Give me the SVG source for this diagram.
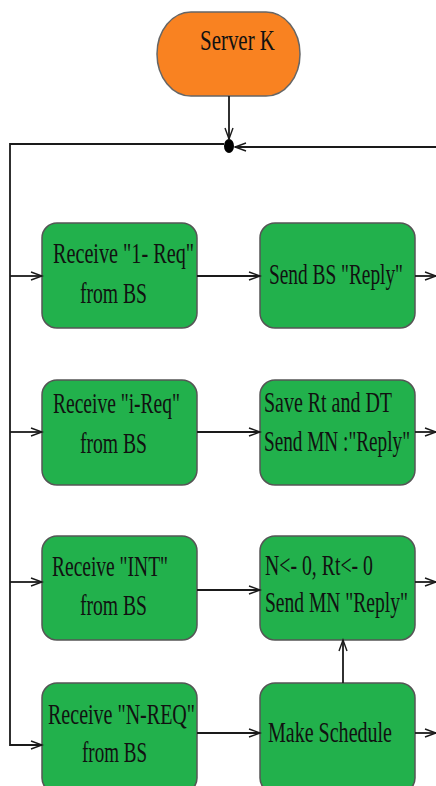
<svg xmlns="http://www.w3.org/2000/svg" width="436" height="786" viewBox="0 0 436 786">
<style>
.box{fill:#22B14C;stroke:#555;stroke-width:1.5}
.start{fill:#F98221;stroke:#666;stroke-width:1.5}
.t{font-family:"Liberation Serif","DejaVu Serif","Times New Roman",serif;font-size:20px;fill:#111}
.c{fill:none;stroke:#1a1a1a;stroke-width:1.8}
</style>
<defs>
<marker id="a" markerUnits="userSpaceOnUse" markerWidth="14" markerHeight="12" refX="12" refY="5" orient="auto" viewBox="0 0 14 10">
<path d="M1,1 L12,5 L1,9" fill="none" stroke="#1a1a1a" stroke-width="1.4"/>
</marker>
</defs>
<rect width="436" height="786" fill="#fff"/>
<g id="server-k">
<rect class="start" x="157" y="12" width="143" height="84" rx="34" ry="42"/>
<text class="t" transform="translate(200,50) scale(1,1.45)" textLength="75" lengthAdjust="spacingAndGlyphs">Server K</text>
</g>
<g id="merge">
<ellipse cx="229" cy="146" rx="5" ry="7" fill="#000"/>
</g>
<g id="r1-receive">
<rect class="box" x="42" y="223" width="155" height="105" rx="15"/>
<text class="t" transform="translate(53,263) scale(1,1.45)" textLength="141" lengthAdjust="spacingAndGlyphs">Receive "1- Req"</text>
<text class="t" transform="translate(80,303) scale(1,1.45)" textLength="67" lengthAdjust="spacingAndGlyphs">from BS</text>
</g>
<g id="r1-send">
<rect class="box" x="260" y="223" width="155" height="105" rx="15"/>
<text class="t" transform="translate(269,284) scale(1,1.45)" textLength="134" lengthAdjust="spacingAndGlyphs">Send BS "Reply"</text>
</g>
<g id="r2-receive">
<rect class="box" x="42" y="380" width="155" height="105" rx="15"/>
<text class="t" transform="translate(53,413) scale(1,1.45)" textLength="127" lengthAdjust="spacingAndGlyphs">Receive "i-Req"</text>
<text class="t" transform="translate(80,453) scale(1,1.45)" textLength="67" lengthAdjust="spacingAndGlyphs">from BS</text>
</g>
<g id="r2-save">
<rect class="box" x="260" y="380" width="155" height="105" rx="15"/>
<text class="t" transform="translate(264,412) scale(1,1.45)" textLength="128" lengthAdjust="spacingAndGlyphs">Save Rt and DT</text>
<text class="t" transform="translate(264,451) scale(1,1.45)" textLength="146" lengthAdjust="spacingAndGlyphs">Send MN :"Reply"</text>
</g>
<g id="r3-receive">
<rect class="box" x="42" y="536" width="155" height="104" rx="15"/>
<text class="t" transform="translate(52,576) scale(1,1.45)" textLength="116" lengthAdjust="spacingAndGlyphs">Receive "INT"</text>
<text class="t" transform="translate(80,615) scale(1,1.45)" textLength="67" lengthAdjust="spacingAndGlyphs">from BS</text>
</g>
<g id="r3-reset">
<rect class="box" x="260" y="536" width="155" height="104" rx="15"/>
<text class="t" transform="translate(265,575) scale(1,1.45)" textLength="108" lengthAdjust="spacingAndGlyphs">N&lt;- 0, Rt&lt;- 0</text>
<text class="t" transform="translate(265,612) scale(1,1.45)" textLength="143" lengthAdjust="spacingAndGlyphs">Send MN "Reply"</text>
</g>
<g id="r4-receive">
<rect class="box" x="42" y="683" width="155" height="110" rx="15"/>
<text class="t" transform="translate(48,724) scale(1,1.45)" textLength="147" lengthAdjust="spacingAndGlyphs">Receive "N-REQ"</text>
<text class="t" transform="translate(82,762) scale(1,1.45)" textLength="65" lengthAdjust="spacingAndGlyphs">from BS</text>
</g>
<g id="r4-schedule">
<rect class="box" x="260" y="683" width="155" height="110" rx="15"/>
<text class="t" transform="translate(268,742) scale(1,1.45)" textLength="124" lengthAdjust="spacingAndGlyphs">Make Schedule</text>
</g>
<g id="connectors">
<path class="c" d="M229,96 V139" marker-end="url(#a)"/>
<path class="c" d="M436,147 H235" marker-end="url(#a)"/>
<path class="c" d="M224,144 H10 V745 H42" marker-end="url(#a)"/>
<path class="c" d="M10,276 H42" marker-end="url(#a)"/>
<path class="c" d="M10,432 H42" marker-end="url(#a)"/>
<path class="c" d="M10,582 H42" marker-end="url(#a)"/>
<path class="c" d="M197,276 H260" marker-end="url(#a)"/>
<path class="c" d="M197,432 H260" marker-end="url(#a)"/>
<path class="c" d="M197,590 H260" marker-end="url(#a)"/>
<path class="c" d="M197,733 H260" marker-end="url(#a)"/>
<path class="c" d="M415,276 H436" marker-end="url(#a)"/>
<path class="c" d="M415,432 H436" marker-end="url(#a)"/>
<path class="c" d="M415,582 H436" marker-end="url(#a)"/>
<path class="c" d="M415,733 H436" marker-end="url(#a)"/>
<path class="c" d="M343,683 V640" marker-end="url(#a)"/>
</g>
</svg>
